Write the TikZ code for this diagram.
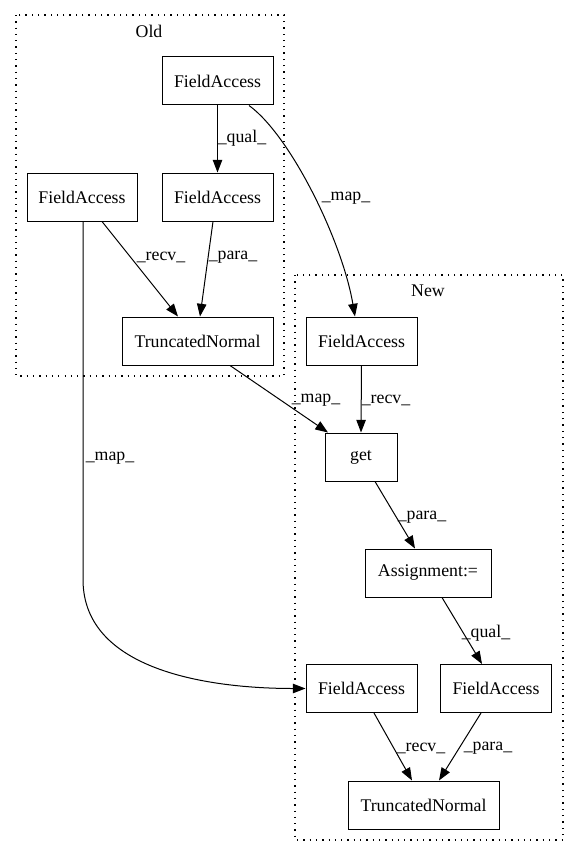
\documentclass[tikz,border=0pt]{standalone}
\usepackage{fontspec}
\setmainfont{Liberation Serif}
\usetikzlibrary{arrows.meta}
\begin{document}
\begin{tikzpicture}[x=1pt,y=-1pt,
  every node/.style={font=\fontsize{17.8}{20}\selectfont},
  box/.style={draw,line width=1pt,minimum height=48pt,inner sep=0pt,anchor=center},
  lbl/.style={inner sep=0pt,anchor=center},
  edge/.style={line width=1pt,-{Triangle[length=12.7pt,width=9.5pt]}},
  cluster/.style={line width=1.3pt,dash pattern=on 1.3pt off 5pt}]
\useasboundingbox (0,0) rectangle (579,856);
% clusters
\draw[cluster] (16,15) rectangle (284,376);
\draw[cluster] (295,275) rectangle (563,840);
\node[lbl] (old) at (149,31) {Old};
\node[lbl] (new) at (428,291) {New};
% nodes
\node[box,minimum width=111pt] (fa1) at (217.5,81) {FieldAccess};
\node[box,minimum width=110pt] (fa2) at (82,197) {FieldAccess};
\node[box,minimum width=111pt] (fa3) at (217.5,197) {FieldAccess};
\node[box,minimum width=151pt] (tn1) at (197.5,341) {TruncatedNormal};
\node[box,minimum width=111pt] (fa4) at (361.5,341) {FieldAccess};
\node[box,minimum width=72pt] (get) at (361,457) {get};
\node[box,minimum width=126pt] (asg) at (428,573) {Assignment:=};
\node[box,minimum width=111pt] (fa5) at (361.5,688.5) {FieldAccess};
\node[box,minimum width=111pt] (fa6) at (496,688.5) {FieldAccess};
\node[box,minimum width=151pt] (tn2) at (423.5,805) {TruncatedNormal};
% edges
\draw[edge] (fa1.south) -- (fa3.north);
\draw[edge] ([xshift=31.5pt]fa1.south) .. controls (290,135) and (342,240) .. ([xshift=-6.5pt]fa4.north);
\draw[edge] ([xshift=20pt]fa2.south) -- ([xshift=-19.5pt]tn1.north);
\draw[edge] ([xshift=-4.5pt]fa3.south) -- ([xshift=2.5pt]tn1.north);
\draw[edge] ([xshift=32.5pt]tn1.south) -- ([xshift=-33pt]get.north);
\draw[edge] (fa4.south) -- (get.north);
\draw[edge] ([xshift=1pt]fa2.south) -- ++(0,358) .. controls +(0,95) and (220,688.5) .. (fa5.west);
\draw[edge] ([xshift=14pt]get.south) -- ([xshift=-13pt]asg.north);
\draw[edge] ([xshift=14pt]asg.south) -- ([xshift=-14pt]fa6.north);
\draw[edge] ([xshift=12.5pt]fa5.south) -- ([xshift=-11.5pt]tn2.north);
\draw[edge] ([xshift=-15pt]fa6.south) -- ([xshift=15.5pt]tn2.north);
% edge labels
\node[lbl] (l1) at (242,138) {\_qual\_};
\node[lbl] (l2) at (346,198) {\_map\_};
\node[lbl] (l3) at (161,257) {\_recv\_};
\node[lbl] (l4) at (233,257) {\_para\_};
\node[lbl] (l5) at (316,400) {\_map\_};
\node[lbl] (l6) at (386,400) {\_recv\_};
\node[lbl] (l7) at (110,458) {\_map\_};
\node[lbl] (l8) at (422,517) {\_para\_};
\node[lbl] (l9) at (486,633) {\_qual\_};
\node[lbl] (l10) at (421,748) {\_recv\_};
\node[lbl] (l11) at (488,748) {\_para\_};
\end{tikzpicture}
\end{document}
